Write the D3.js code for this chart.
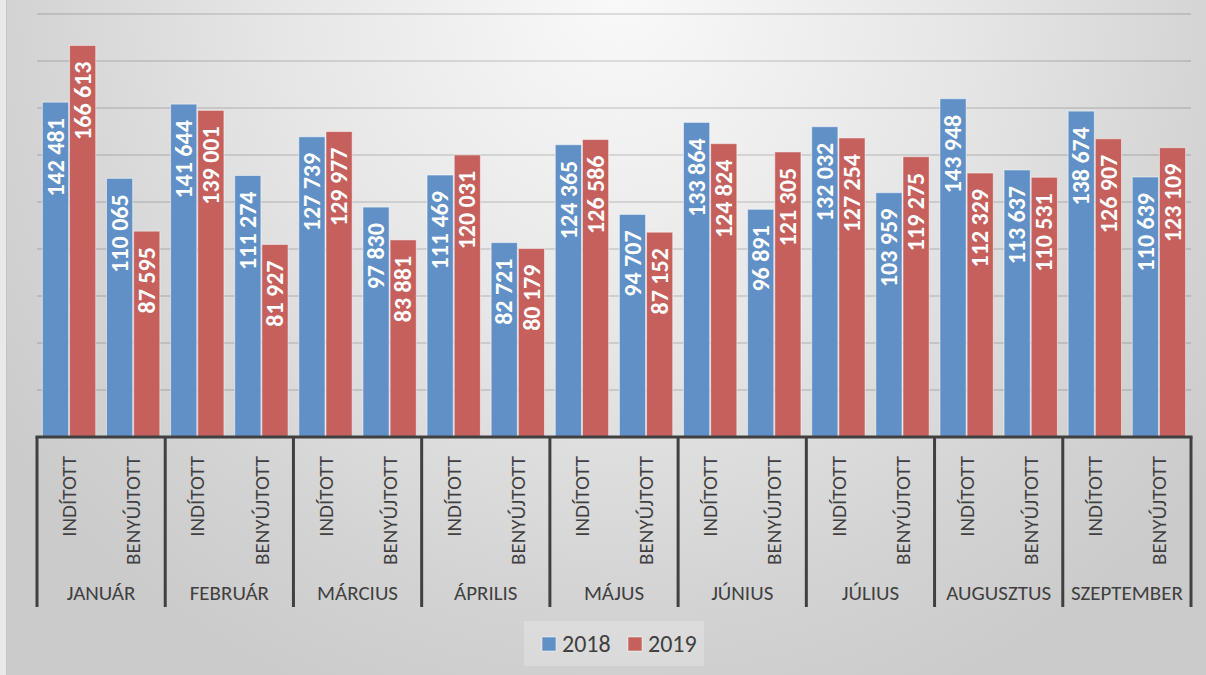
<!DOCTYPE html>
<html>
<head>
<meta charset="utf-8">
<script src="https://cdn.jsdelivr.net/npm/d3@7"></script>
<style>
  body { margin: 0; background: #e9e9e9; }
  svg { display: block; }
  text { font-family: Carlito, Calibri, "Liberation Sans", sans-serif; }
</style>
</head>
<body>
<svg id="chartSvg" width="1206" height="675"></svg>
<script>
// months (outer level) and the two kinds (inner level)
const months = ["JANUÁR", "FEBRUÁR", "MÁRCIUS", "ÁPRILIS", "MÁJUS", "JÚNIUS", "JÚLIUS", "AUGUSZTUS", "SZEPTEMBER"]
const kinds = ["INDÍTOTT", "BENYÚJTOTT"]
const years = ["2018", "2019"]

// values per month, indított then benyújtott
const values2018 = [142481, 110065, 141644, 111274, 127739, 97830, 111469, 82721, 124365, 94707, 133864, 96891, 132032, 103959, 143948, 113637, 138674, 110639]
const values2019 = [166613, 87595, 139001, 81927, 129977, 83881, 120031, 80179, 126586, 87152, 124824, 121305, 127254, 119275, 112329, 110531, 126907, 123109]

const yTicks = [0, 20000, 40000, 60000, 80000, 100000, 120000, 140000, 160000, 180000]

const colorMap = { "2018": "#6090c6", "2019": "#c5605d" }
const inkColor = "#404040"

const plot = { left: 37, right: 1191, top: 14, base: 437, bottom: 607 }

const svgEl = d3.select("#chartSvg")

// background with a soft radial shading
const defs = svgEl.append("defs")
const grad = defs.append("radialGradient")
  .attr("id", "bgGrad")
  .attr("gradientUnits", "userSpaceOnUse")
  .attr("cx", 620).attr("cy", 0).attr("r", 760)
grad.append("stop").attr("offset", 0).attr("stop-color", "#f9f9f9")
grad.append("stop").attr("offset", 0.45).attr("stop-color", "#e6e6e6")
grad.append("stop").attr("offset", 0.8).attr("stop-color", "#d3d3d3")
grad.append("stop").attr("offset", 1).attr("stop-color", "#cbcbcb")

svgEl.append("rect")
  .attr("x", 6).attr("y", 0)
  .attr("width", 1200).attr("height", 675)
  .attr("fill", "url(#bgGrad)")
svgEl.append("line")
  .attr("x1", 6.5).attr("x2", 6.5).attr("y1", 0).attr("y2", 675)
  .attr("stroke", "#c4c4c4")

// build rows
const rows = []
months.forEach((m, i) => {
  kinds.forEach((k, j) => {
    const idx = i * 2 + j
    rows.push({ month: m, kind: k, "2018": values2018[idx], "2019": values2019[idx] })
  })
})

const xMonth = d3.scaleBand().domain(months).range([plot.left, plot.right]).padding(0)
const xKind = d3.scaleBand().domain(kinds).range([0, xMonth.bandwidth()]).padding(0)
const xYear = d3.scaleBand().domain(years).range([0, xKind.bandwidth()]).paddingOuter(0.18).paddingInner(0)

const yScale = d3.scaleLinear().domain([0, 180000]).range([plot.base, plot.top])

// gridlines
svgEl.append("g")
  .selectAll("line")
  .data(yTicks.slice(1))
  .enter()
  .append("line")
  .attr("x1", plot.left).attr("x2", plot.right)
  .attr("y1", d => yScale(d)).attr("y2", d => yScale(d))
  .attr("stroke", "#000")
  .attr("stroke-opacity", 0.11)
  .attr("stroke-width", 2)

// bars
const barG = svgEl.append("g")
rows.forEach(row => {
  years.forEach(yr => {
    const x = xMonth(row.month) + xKind(row.kind) + xYear(yr)
    const w = xYear.bandwidth()
    const y = yScale(row[yr])
    barG.append("rect")
      .attr("x", x + 0.5)
      .attr("y", y)
      .attr("width", w - 1)
      .attr("height", plot.base - y)
      .attr("fill", colorMap[yr])
      .attr("stroke", "#fff")
      .attr("stroke-opacity", 0.5)
      .attr("stroke-width", 1)

    // value label inside the bar end, rotated
    barG.append("text")
      .attr("transform", `translate(${x + w / 2}, ${y + 16}) rotate(-90)`)
      .attr("text-anchor", "end")
      .attr("dy", "0.34em")
      .attr("fill", "#fff")
      .attr("font-weight", "bold")
      .attr("font-size", 24)
      .text(d3.format(",")(row[yr]).replace(/,/g, " "))
  })
})

// category axis
const axisG = svgEl.append("g")
axisG.append("line")
  .attr("x1", plot.left - 1.5).attr("x2", plot.right + 1.5)
  .attr("y1", plot.base).attr("y2", plot.base)
  .attr("stroke", inkColor).attr("stroke-width", 3)

const dividers = months.map(m => xMonth(m)).concat([plot.right])
axisG.selectAll(".divider")
  .data(dividers)
  .enter()
  .append("line")
  .attr("class", "divider")
  .attr("x1", d => d).attr("x2", d => d)
  .attr("y1", plot.base).attr("y2", plot.bottom)
  .attr("stroke", inkColor).attr("stroke-width", 3)

axisG.selectAll(".kindLabel")
  .data(rows)
  .enter()
  .append("text")
  .attr("class", "kindLabel")
  .attr("transform", d => `translate(${xMonth(d.month) + xKind(d.kind) + xKind.bandwidth() / 2}, 456) rotate(-90)`)
  .attr("text-anchor", "end")
  .attr("dy", "0.34em")
  .attr("fill", inkColor)
  .attr("font-size", 21)
  .text(d => d.kind)

axisG.selectAll(".monthLabel")
  .data(months)
  .enter()
  .append("text")
  .attr("class", "monthLabel")
  .attr("x", d => xMonth(d) + xMonth.bandwidth() / 2)
  .attr("y", 600)
  .attr("text-anchor", "middle")
  .attr("fill", inkColor)
  .attr("font-size", 21)
  .text(d => d)

// legend
const legend = svgEl.append("g")
legend.append("rect")
  .attr("x", 524).attr("y", 621)
  .attr("width", 180).attr("height", 45)
  .attr("fill", "#fff").attr("fill-opacity", 0.22)

const legendX = { "2018": 542, "2019": 628 }
years.forEach(yr => {
  legend.append("rect")
    .attr("x", legendX[yr]).attr("y", 637)
    .attr("width", 14).attr("height", 14)
    .attr("fill", colorMap[yr])
    .attr("stroke", "#fff").attr("stroke-opacity", 0.5)
  legend.append("text")
    .attr("x", legendX[yr] + 20).attr("y", 652)
    .attr("fill", inkColor)
    .attr("font-size", 24)
    .text(yr)
})
</script>
</body>
</html>
